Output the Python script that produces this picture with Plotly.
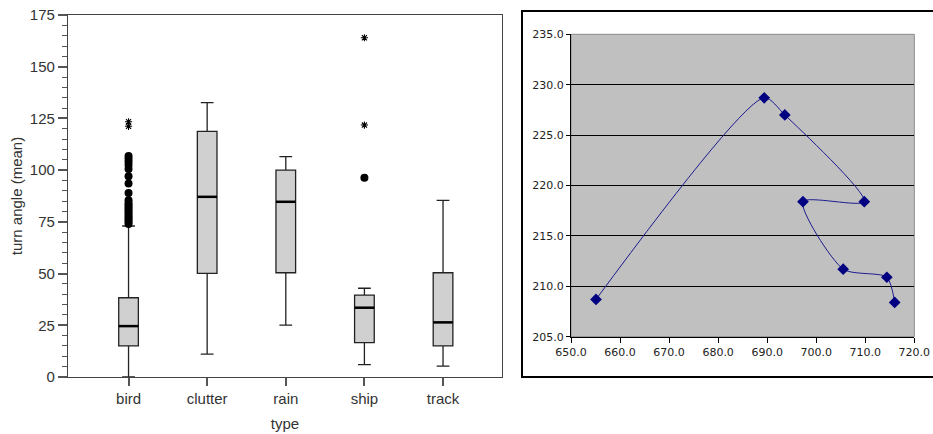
import plotly.graph_objects as go

W, H = 933, 434

# ---------------- data: box plot ----------------
categories = ["bird", "clutter", "rain", "ship", "track"]
q1 = [15.0, 50.1, 50.4, 16.6, 15.0]
medians = [24.6, 87.1, 84.7, 33.5, 26.4]
q3 = [38.3, 118.7, 100.0, 39.6, 50.4]
lower_whisker = [0.0, 11.1, 25.1, 6.0, 5.3]
upper_whisker = [73.0, 132.6, 106.5, 42.9, 85.4]

bird_circles = [106.8, 105.5, 104.0, 102.5, 100.5, 97.0, 93.5, 89.0, 85.5, 84.0,
                83.0, 82.0, 81.0, 80.0, 79.0, 78.0, 77.0, 76.0, 75.0, 74.0]
bird_stars = [121.2, 123.4]
ship_circles = [96.3]
ship_stars = [121.8, 164.0]

yticks_left = [0, 25, 50, 75, 100, 125, 150, 175]

# ---------------- data: track plot ----------------
track_x = [655.1, 689.4, 693.6, 709.8, 697.3, 705.5, 714.4, 716.0]
track_y = [208.7, 228.7, 227.0, 218.4, 218.4, 211.7, 210.9, 208.4]

positions = list(range(len(categories)))
box_w = 0.25

def px_x(p):
    return p / W

def px_y(p):
    return 1 - p / H

fig = go.Figure()

fig.add_trace(go.Box(
    x=positions, q1=q1, median=medians, q3=q3,
    lowerfence=lower_whisker, upperfence=upper_whisker,
    width=box_w, whiskerwidth=0.65, boxpoints=False,
    fillcolor="#d0d0d0", line=dict(color="#222222", width=1.3),
    xaxis="x", yaxis="y", showlegend=False, hoverinfo="skip",
))

# thicker median lines
mx, my = [], []
for p, m in zip(positions, medians):
    mx += [p - box_w / 2, p + box_w / 2, None]
    my += [m, m, None]
fig.add_trace(go.Scatter(x=mx, y=my, mode="lines", line=dict(color="black", width=2.5),
                         xaxis="x", yaxis="y", showlegend=False, hoverinfo="skip"))

# outliers
fig.add_trace(go.Scatter(
    x=[positions[0]] * len(bird_circles) + [positions[3]] * len(ship_circles),
    y=bird_circles + ship_circles, mode="markers",
    marker=dict(symbol="circle", size=8, color="black"),
    xaxis="x", yaxis="y", showlegend=False))
fig.add_trace(go.Scatter(
    x=[positions[0]] * len(bird_stars) + [positions[3]] * len(ship_stars),
    y=bird_stars + ship_stars, mode="markers",
    marker=dict(symbol="asterisk-open", size=6, color="black", line=dict(width=1.1, color="#222222")),
    xaxis="x", yaxis="y", showlegend=False))

# right chart
fig.add_trace(go.Scatter(
    x=track_x, y=track_y, mode="lines+markers",
    line=dict(color="#1c1c8e", width=1, shape="spline", smoothing=0.7),
    marker=dict(symbol="diamond", size=9, color="#000080"),
    xaxis="x2", yaxis="y2", showlegend=False))

axis_font = dict(family="Liberation Sans, Arial, sans-serif", size=15, color="#333333")
xl_font = dict(family="DejaVu Sans, Verdana, sans-serif", size=11, color="#222222")

fig.update_layout(
    width=W, height=H,
    margin=dict(l=0, r=0, t=0, b=0, autoexpand=False),
    paper_bgcolor="white", plot_bgcolor="rgba(0,0,0,0)",
    xaxis=dict(
        domain=[px_x(68), px_x(502)], anchor="y", automargin=False,
        range=[-0.77, 4.75], tickvals=positions, ticktext=categories,
        ticks="outside", ticklen=8, tickcolor="#555555", tickwidth=1.5,
        showline=True, linecolor="#444444", linewidth=1.3, mirror=True,
        showgrid=False, zeroline=False, tickfont=axis_font,
        title=dict(text="type", font=axis_font, standoff=12),
    ),
    yaxis=dict(
        domain=[px_y(377), px_y(15)], anchor="x", automargin=False,
        range=[0, 175], tickvals=yticks_left,
        ticks="outside", ticklen=9, tickcolor="#555555", tickwidth=1.5,
        minor=dict(dtick=5, ticks="outside", ticklen=5, tickcolor="#555555", tickwidth=1.3, showgrid=False),
        showline=True, linecolor="#444444", linewidth=1.3, mirror=True,
        showgrid=False, zeroline=False, tickfont=axis_font,
        title=dict(text="turn angle (mean)", font=axis_font, standoff=3),
    ),
    xaxis2=dict(
        domain=[px_x(571), px_x(914.3)], anchor="y2", automargin=False,
        range=[650, 720], dtick=10, tick0=650, tickformat=".1f",
        ticks="outside", ticklen=5, tickcolor="black",
        showline=True, linecolor="black", linewidth=1,
        showgrid=False, zeroline=False, tickfont=xl_font,
    ),
    yaxis2=dict(
        domain=[px_y(336.7), px_y(34.3)], anchor="x2", automargin=False,
        range=[205, 235], dtick=5, tick0=205, tickformat=".1f",
        ticks="outside", ticklen=4, tickcolor="black",
        showline=True, linecolor="black", linewidth=1,
        showgrid=True, gridcolor="black", gridwidth=1, zeroline=False,
        tickfont=xl_font,
    ),
    shapes=[
        dict(type="rect", xref="x2 domain", yref="y2 domain", x0=0, x1=1, y0=0, y1=1,
             fillcolor="#c0c0c0", line=dict(color="#8a8a8a", width=1), layer="below"),
        dict(type="rect", xref="paper", yref="paper",
             x0=px_x(522), x1=px_x(945), y0=px_y(377), y1=px_y(11),
             line=dict(color="black", width=2), fillcolor="rgba(0,0,0,0)", layer="below"),
    ],
)

fig.write_html(
    "out.html",
    config={"displayModeBar": False},
    post_script="document.body.style.margin='0';document.body.style.overflow='hidden';",
)
